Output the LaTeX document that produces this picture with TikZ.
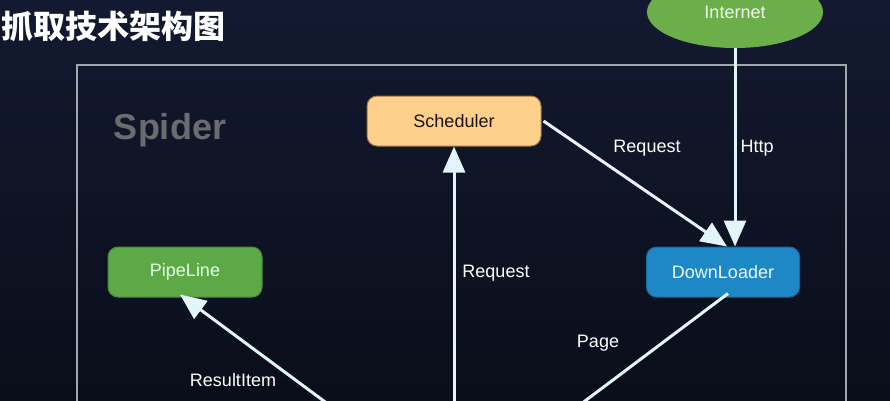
\documentclass[tikz,border=0pt]{standalone}
\usepackage{fontspec}
\setmainfont{Liberation Sans}
\newfontfamily\cjk{Noto Sans CJK SC}
\usetikzlibrary{arrows.meta,shapes.geometric,calc}
\definecolor{bgtop}{HTML}{131930}
\definecolor{bgbot}{HTML}{0A0E1A}
\definecolor{linec}{HTML}{E2F5FB}
\definecolor{framec}{HTML}{A3A6B0}
\definecolor{schedfill}{HTML}{FDD08C}
\definecolor{schedline}{HTML}{9A7440}
\definecolor{greenfill}{HTML}{5EA947}
\definecolor{greenline}{HTML}{4A8A38}
\definecolor{bluefill}{HTML}{1E88C6}
\definecolor{blueline}{HTML}{17699C}
\definecolor{inetfill}{HTML}{6CAE4A}
\definecolor{spidergray}{HTML}{6A6C70}
\tikzset{
  box/.style={rounded corners=10pt, minimum height=50pt, inner sep=0pt, line width=1pt, font=\fontsize{18}{20}\selectfont},
  flow/.style={draw=linec, line width=3pt},
  tip/.style={-{Triangle[width=22pt,length=26pt]}},
  lbl/.style={text=white, font=\fontsize{18}{20}\selectfont, inner sep=0pt}
}
\begin{document}
\begin{tikzpicture}[x=1pt,y=-1pt]
\shade[top color=bgtop, bottom color=bgbot] (0,0) rectangle (890,400);
\useasboundingbox (0,0) rectangle (890,400);
% frame
\draw[framec, line width=1.5pt] (77,420) -- (77,65) -- (846,65) -- (846,420);
% title
\node[anchor=west, text=white, inner sep=0pt, font=\cjk\bfseries\fontsize{32}{34}\selectfont] (title) at (1,26) {抓取技术架构图};
\node[text=spidergray, inner sep=0pt, font=\bfseries\fontsize{36}{38}\selectfont] (spider) at (170,130) {Spider};
% nodes
\node[ellipse, fill=inetfill, minimum width=176pt, minimum height=72pt, inner sep=0pt, text=white!92!green, font=\fontsize{18}{20}\selectfont] (inet) at (735,12) {Internet};
\node[box, fill=schedfill, draw=schedline, minimum width=174pt, text=black!85!brown] (sched) at (454,121) {Scheduler};
\node[box, fill=greenfill, draw=greenline, minimum width=154pt, text=white!90!green] (pl) at (185,272) {PipeLine};
\node[box, fill=bluefill, draw=blueline, minimum width=153pt, text=white!92!cyan] (dl) at (723,272) {DownLoader};
% off-picture ends
\coordinate (engR) at (454,420);
\coordinate (engL) at (336,410);
\coordinate (engP) at (573,410);
% connectors
\draw[flow, tip] ([xshift=2pt]sched.east) -- ([xshift=4pt]dl.north);
\draw[flow, tip] (inet.south) -- (inet.south |- dl.north);
\draw[flow, tip] (engR) -- (sched.south);
\draw[flow, tip] (engL) -- ([xshift=-5pt,yshift=3pt]pl.south);
\draw[flow] ([xshift=5pt,yshift=4pt]dl.south) -- (engP);
% labels
\node[lbl] (l1) at (647,148) {Request};
\node[lbl] (l2) at (757,148) {Http};
\node[lbl] (l3) at (496,273) {Request};
\node[lbl] (l4) at (233,380) {ResultItem};
\node[lbl] (l5) at (598,343) {Page};
\end{tikzpicture}
\end{document}
